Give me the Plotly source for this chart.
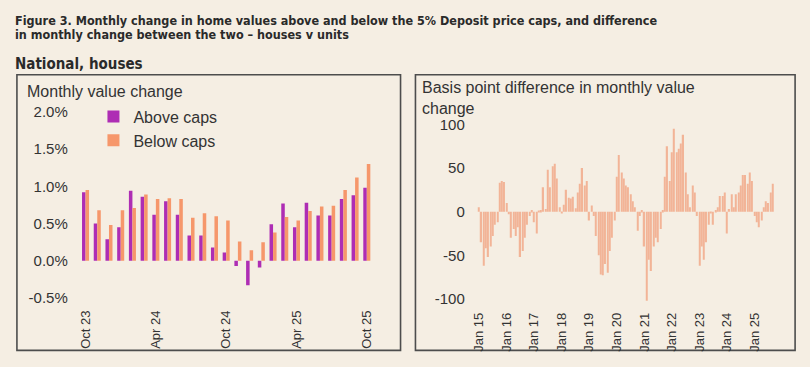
import plotly.graph_objects as go
import pandas as pd

# ---------------- data ----------------
left_months = ["Oct 23", "Nov 23", "Dec 23", "Jan 24", "Feb 24", "Mar 24", "Apr 24", "May 24",
               "Jun 24", "Jul 24", "Aug 24", "Sep 24", "Oct 24", "Nov 24", "Dec 24", "Jan 25",
               "Feb 25", "Mar 25", "Apr 25", "May 25", "Jun 25", "Jul 25", "Aug 25", "Sep 25", "Oct 25"]
above_caps = [0.92, 0.50, 0.29, 0.45, 0.94, 0.86, 0.62, 0.80, 0.62, 0.34, 0.34, 0.18, 0.11,
              -0.07, -0.33, -0.09, 0.49, 0.77, 0.45, 0.78, 0.61, 0.61, 0.83, 0.88, 0.98]
below_caps = [0.95, 0.68, 0.48, 0.68, 0.71, 0.89, 0.83, 0.84, 0.83, 0.58, 0.64, 0.60, 0.54,
              0.26, 0.14, 0.25, 0.38, 0.59, 0.54, 0.67, 0.73, 0.74, 0.95, 1.12, 1.30]
left_ticks = ["Oct 23", "Apr 24", "Oct 24", "Apr 25", "Oct 25"]
left_yticks = [-0.5, 0.0, 0.5, 1.0, 1.5, 2.0]
left_yticktext = ["-0.5%", "0.0%", "0.5%", "1.0%", "1.5%", "2.0%"]

bp_diff = [
    5, -35, -62, -42, -52, -40, -28, -15, -12, 33, 35, 34,      # 2015
    10, -3, -30, -20, -28, -18, -52, -45, -30, -15, -5, 2,      # 2016
    -12, -25, 1, 2, 28, 3, 48, 28, 52, 55, 38, 5,               # 2017
    -2, 8, 25, 16, 15, 17, 4, 22, 32, 50, 30, 35,               # 2018
    -10, 7, -5, -28, -50, -72, -73, -60, -70, -45, -30, -10,    # 2019
    40, 65, 45, 38, 30, 28, 20, 12, 5, -22, -5, 2,              # 2020
    -40, -102, -55, -68, -40, -30, -35, -20, 2, 40, 75, 35,     # 2021
    68, 95, 68, 72, 78, 88, 45, 20, 5, 30, 22, -5,              # 2022
    -62, -40, -55, -35, -15, -2, -15, 2, 5, 18, 18, 22,         # 2023
    -25, 3, 20, 5, 20, 22, 30, 42, 42, 32, 45, 35,              # 2024
    -5, -12, -18, -10, 5, 12, 10, 22, 32,                       # 2025
]
right_months = list(pd.date_range("2015-01-01", periods=len(bp_diff), freq="MS").strftime("%b %y"))
right_ticks = ["Jan 15", "Jan 16", "Jan 17", "Jan 18", "Jan 19", "Jan 20", "Jan 21",
               "Jan 22", "Jan 23", "Jan 24", "Jan 25"]
right_yticks = [-100, -50, 0, 50, 100]

# ---------------- style ----------------
W, H = 810, 367
BG = "#F5EEE3"
TXT = "#333333"
PURPLE = "#AE2DB4"
ORANGE = "#F6976B"
SALMON = "#F2B497"
FONT = "Liberation Sans, Arial, sans-serif"
TFONT = "DejaVu Sans Condensed, Roboto, sans-serif"


def px(x):
    return x / W


def py(y):
    return 1 - y / H


fig = go.Figure()
fig.add_trace(go.Bar(x=left_months, y=above_caps, name="Above caps", marker_color=PURPLE,
                     marker_line_width=0, xaxis="x", yaxis="y"))
fig.add_trace(go.Bar(x=left_months, y=below_caps, name="Below caps", marker_color=ORANGE,
                     marker_line_width=0, xaxis="x", yaxis="y"))
fig.add_trace(go.Bar(x=right_months, y=bp_diff, name="Difference", marker_color=SALMON,
                     marker_line_width=0, width=0.55, showlegend=False, xaxis="x2", yaxis="y2",
                     offsetgroup="d"))

xcommon = dict(showgrid=False, zeroline=False, showline=False, ticks="",
               tickfont=dict(family=FONT, size=13, color=TXT))
ycommon = dict(showgrid=False, zeroline=False, showline=False, ticks="",
               tickfont=dict(family=FONT, size=15, color=TXT))

fig.update_layout(
    width=W, height=H,
    margin=dict(l=0, r=0, t=0, b=0),
    paper_bgcolor=BG, plot_bgcolor=BG,
    barmode="group", bargap=0.4, bargroupgap=0,
    font=dict(family=FONT, color=TXT),
    xaxis=dict(domain=[px(72.2), px(372.9)], type="category", range=[-0.75, 24.75],
               tickmode="array", tickvals=left_ticks, ticktext=left_ticks, tickangle=-90,
               ticklabelstandoff=9, anchor="y", **xcommon),
    yaxis=dict(domain=[py(303), py(108)], range=[-0.5, 2.0], tickmode="array",
               tickvals=left_yticks, ticktext=left_yticktext, ticklabelstandoff=8,
               anchor="x", **ycommon),
    xaxis2=dict(domain=[px(474.7), px(777.3)], type="category", range=[-1, 130],
                tickmode="array", tickvals=right_ticks, ticktext=right_ticks, tickangle=-90,
                ticklabelstandoff=5, anchor="y2", **xcommon),
    yaxis2=dict(domain=[py(309.5), py(121)], range=[-106, 100], tickmode="array",
                tickvals=right_yticks, ticktext=[str(v) for v in right_yticks],
                ticklabelstandoff=11, anchor="x2", **ycommon),
    legend=dict(x=px(89), y=py(95), xanchor="left", yanchor="top", bgcolor="rgba(0,0,0,0)",
                font=dict(family=FONT, size=16, color=TXT), tracegroupgap=0, itemwidth=30),
    showlegend=True,
)

shapes = [
    dict(type="rect", xref="paper", yref="paper", x0=px(12), x1=px(398), y0=py(358), y1=py(69),
         line=dict(color="#4D4D4D", width=1.6), fillcolor="rgba(0,0,0,0)", layer="below"),
    dict(type="rect", xref="paper", yref="paper", x0=px(413), x1=px(795), y0=py(358), y1=py(69),
         line=dict(color="#4D4D4D", width=1.6), fillcolor="rgba(0,0,0,0)", layer="below"),
]
fig.update_layout(shapes=shapes)

ann = [
    dict(text="<b>Figure 3. Monthly change in home values above and below the 5% Deposit price caps, and difference</b>",
         x=px(8), y=py(12), font=dict(family=TFONT, size=12.5, color="#2A2A2A")),
    dict(text="<b>in monthly change between the two – houses v units</b>",
         x=px(8), y=py(27), font=dict(family=TFONT, size=12.5, color="#2A2A2A")),
    dict(text="<b>National, houses</b>", x=px(8), y=py(58),
         font=dict(family=TFONT, size=15, color="#2A2A2A")),
    dict(text="Monthly value change", x=px(20), y=py(86),
         font=dict(family=FONT, size=16, color=TXT)),
    dict(text="Basis point difference in monthly value", x=px(418), y=py(82),
         font=dict(family=FONT, size=16, color=TXT)),
    dict(text="change", x=px(418), y=py(104),
         font=dict(family=FONT, size=16, color=TXT)),
]
for a in ann:
    a.update(xref="paper", yref="paper", xanchor="left", yanchor="middle", showarrow=False)
fig.update_layout(annotations=ann)

fig.write_html(
    "out.html",
    config={"displayModeBar": False},
    post_script="document.body.style.margin='0';document.body.style.background='#F5EEE3';",
)
